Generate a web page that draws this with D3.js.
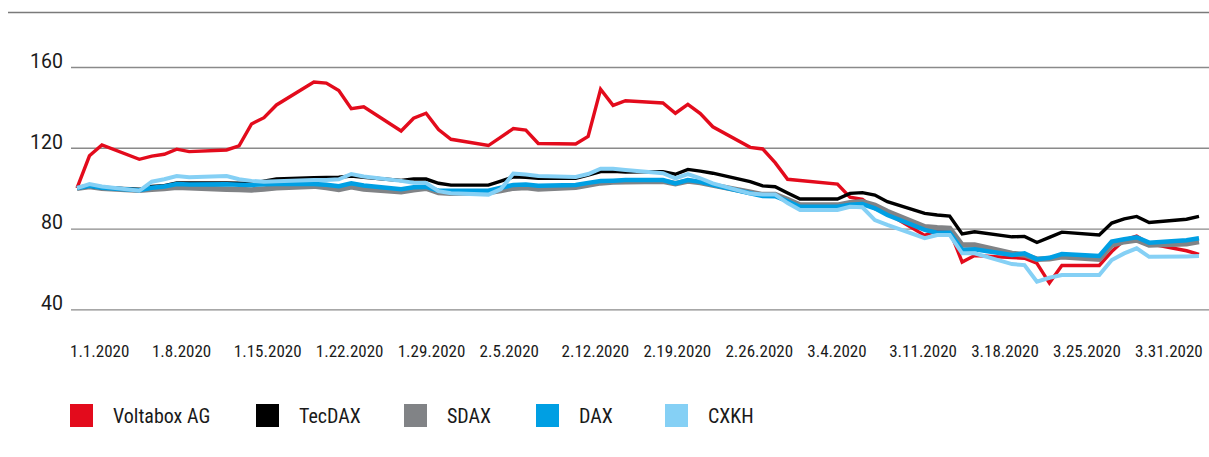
<!DOCTYPE html>
<html>
<head>
<meta charset="utf-8">
<script src="https://cdn.jsdelivr.net/npm/d3@7"></script>
<style>
  body { margin: 0; background: #fff; }
  svg { display: block; }
  .narrow { font-family: "Liberation Sans Narrow", "Roboto Condensed", "DejaVu Sans Condensed", sans-serif; }
</style>
</head>
<body>
<svg width="1209" height="457"></svg>
<script>
let width = 1209;
let height = 457;

// trading days shown in the chart
let dates = [
    "2020-01-01", "2020-01-02", "2020-01-03",
    "2020-01-06", "2020-01-07", "2020-01-08", "2020-01-09", "2020-01-10",
    "2020-01-13", "2020-01-14", "2020-01-15", "2020-01-16", "2020-01-17",
    "2020-01-20", "2020-01-21", "2020-01-22", "2020-01-23", "2020-01-24",
    "2020-01-27", "2020-01-28", "2020-01-29", "2020-01-30", "2020-01-31",
    "2020-02-03", "2020-02-04", "2020-02-05", "2020-02-06", "2020-02-07",
    "2020-02-10", "2020-02-11", "2020-02-12", "2020-02-13", "2020-02-14",
    "2020-02-17", "2020-02-18", "2020-02-19", "2020-02-20", "2020-02-21",
    "2020-02-24", "2020-02-25", "2020-02-26", "2020-02-27", "2020-02-28",
    "2020-03-02", "2020-03-03", "2020-03-04", "2020-03-05", "2020-03-06",
    "2020-03-09", "2020-03-10", "2020-03-11", "2020-03-12", "2020-03-13",
    "2020-03-16", "2020-03-17", "2020-03-18", "2020-03-19", "2020-03-20",
    "2020-03-23", "2020-03-24", "2020-03-25", "2020-03-26", "2020-03-27",
    "2020-03-30", "2020-03-31"
];

let voltabox = [
    100, 116, 121.4,
    114.3, 115.9, 116.8, 119.3, 118.1,
    118.9, 120.9, 131.8, 134.9, 141.2,
    152.6, 152, 148.3, 139.4, 140.3,
    128.3, 134.6, 137.1, 129, 124.2,
    121.1, 125.3, 129.5, 128.8, 122.1,
    121.9, 125.6, 149, 141, 143.3,
    142.2, 137.1, 141.5, 136.9, 130.4,
    120.2, 119.4, 112.6, 104.4, 103.8,
    102, 95.5, 94.4, 89.8, 87.5,
    76.6, 79.1, 79.1, 63.4, 66.6,
    65.6, 65.3, 62.8, 53, 61.7,
    61.7, 68.6, 74.3, 76.2, 72.5,
    69, 67.2
];

let tecdax = [
    100, 101, 100.2,
    99.3, 100.8, 101.2, 102.6, 102.6,
    102.6, 102.4, 102.3, 103.5, 104.6,
    105.2, 105.3, 105.4, 106, 105.4,
    103.8, 104.6, 104.5, 102.4, 101.5,
    101.5, 103.5, 105.6, 105.4, 104.9,
    104.9, 106.5, 108.2, 108.3, 108,
    108.2, 106.9, 109.3, 108.4, 107.4,
    103.2, 101.1, 100.7, 97.6, 94.6,
    94.6, 97.4, 97.8, 96.6, 93.3,
    87.5, 86.7, 86.2, 77.3, 78.4,
    75.9, 76.1, 73.1, 75.6, 78.2,
    76.8, 82.7, 84.8, 86, 83,
    84.6, 86
];

let sdax = [
    100, 100.8, 100,
    99, 99.5, 99.8, 100.4, 100.2,
    99.5, 99.3, 99.1, 99.6, 100.2,
    101, 100.3, 99.4, 100.7, 99.6,
    98.2, 99.2, 100, 97.8, 97.5,
    97.8, 98.8, 100, 100.3, 99.6,
    100.4, 101.5, 102.6, 103, 103.2,
    103.4, 102.2, 103.5, 102.8, 101.5,
    98, 96.8, 96.9, 94.3, 91.6,
    91.6, 92.8, 93.3, 91.5, 88.4,
    80.9, 80.4, 80.1, 71.8, 71.8,
    67.7, 66.9, 64.8, 65, 66,
    64.8, 71.8, 73.5, 74.3, 71.8,
    72.5, 73.5
];

let dax = [
    100, 101.2, 100.2,
    99, 100.2, 100.8, 102, 101.8,
    101.9, 101.7, 101.6, 101.9, 102.1,
    102.1, 101.7, 101, 102.4, 101.3,
    99.5, 100.4, 100.6, 98.7, 98.7,
    98.7, 100.2, 101.6, 101.8, 101.2,
    101.6, 102.6, 103.5, 103.7, 104,
    104, 102.4, 104, 103.1, 101.6,
    97.5, 96.1, 96, 93.5, 90.8,
    90.8, 91.8, 92.1, 90, 86.7,
    79.3, 77.9, 77.9, 69.4, 69.7,
    66.9, 67.7, 64.8, 65.5, 67.4,
    66.4, 73.5, 74.7, 75.7, 73,
    74.2, 75.2
];

let cxkh = [
    100, 102, 100.8,
    98.7, 103.2, 104.4, 106, 105.4,
    106, 104.4, 103.6, 103.2, 103.4,
    104, 104, 104.4, 107, 105.8,
    103.6, 102.7, 102.5, 98.5, 97.5,
    96.8, 99.5, 107.2, 106.8, 106,
    105.5, 107, 109.6, 109.6, 109,
    107.4, 104.9, 107, 104.9, 102.4,
    97.3, 96.8, 96.8, 92.6, 89.2,
    89.2, 90.8, 90.5, 84.2, 81.8,
    75.2, 76.8, 76.8, 67.7, 67.7,
    62.4, 61.9, 53.7, 55.6, 57,
    57, 64.4, 67.7, 70.2, 66,
    66.2, 66.4
];

let seriesNames = ["Voltabox AG", "TecDAX", "SDAX", "DAX", "CXKH"];
let seriesValues = [voltabox, tecdax, sdax, dax, cxkh];
let seriesColors = ["#e30b1c", "#000000", "#818386", "#009fe3", "#85d0f5"];
let seriesWidths = [3.4, 3.4, 5.5, 4.5, 4];
// drawing order, bottom first
let drawOrder = [0, 2, 1, 3, 4];

let yTicks = [40, 80, 120, 160];
let xTickLabels = ["1.1.2020", "1.8.2020", "1.15.2020", "1.22.2020", "1.29.2020", "2.5.2020",
    "2.12.2020", "2.19.2020", "2.26.2020", "3.4.2020", "3.11.2020", "3.18.2020",
    "3.25.2020", "3.31.2020"];

// layout
let plot = { left: 71, right: 1209, x0: 77, x1: 1199, yTop: 67, yBottom: 309.3 };
let legendX = [70, 256, 404, 536, 665];

let svg = d3.select("svg");
let parseDate = d3.timeParse("%Y-%m-%d");
let parsed = dates.map(parseDate);

let x = d3.scaleTime()
    .domain(d3.extent(parsed))
    .range([plot.x0, plot.x1]);

let y = d3.scaleLinear()
    .domain([40, 160])
    .range([plot.yBottom, plot.yTop]);

// top rule
svg.append("line")
    .attr("x1", 8).attr("x2", width)
    .attr("y1", 12.5).attr("y2", 12.5)
    .style("stroke", "#7a7a7a")
    .style("stroke-width", 1.6);

// y gridlines + labels
let yAxis = d3.axisLeft(y)
    .tickValues(yTicks)
    .tickSize(-(plot.right - plot.left))
    .tickPadding(8);

let yAxisG = svg.append("g")
    .attr("transform", `translate(${plot.left},0)`)
    .call(yAxis)
    .attr("font-size", null)
    .attr("font-family", null);
yAxisG.select(".domain").remove();
yAxisG.selectAll("line")
    .style("stroke", "#8a8a8a")
    .style("stroke-width", 1.3);
yAxisG.selectAll("text")
    .attr("dy", "0.02em")
    .style("font-family", "Roboto, 'Open Sans', sans-serif")
    .style("font-size", "19.5px")
    .style("fill", "#1a1a1a");

// x labels (evenly spaced category labels under the plot)
let xLab = d3.scalePoint()
    .domain(xTickLabels)
    .range([70, 1135]);

svg.append("g")
    .selectAll("text")
    .data(xTickLabels)
    .join("text")
    .attr("class", "narrow")
    .attr("x", d => xLab(d))
    .attr("y", 357)
    .text(d => d)
    .style("font-size", "17px")
    .style("fill", "#1a1a1a");

// lines
let line = d3.line()
    .x((d, i) => x(parsed[i]))
    .y(d => y(d));

svg.append("g")
    .selectAll("path")
    .data(drawOrder)
    .join("path")
    .attr("d", i => line(seriesValues[i]))
    .style("fill", "none")
    .style("stroke", i => seriesColors[i])
    .style("stroke-width", i => seriesWidths[i]);

// legend
let legend = svg.append("g")
    .selectAll("g")
    .data(seriesNames)
    .join("g")
    .attr("transform", (d, i) => `translate(${legendX[i]},404)`);

legend.append("rect")
    .attr("width", 23)
    .attr("height", 23)
    .style("fill", (d, i) => seriesColors[i]);

legend.append("text")
    .attr("class", "narrow")
    .attr("x", 43)
    .attr("y", 19)
    .text(d => d)
    .style("font-size", "20px")
    .style("fill", "#1a1a1a");
</script>
</body>
</html>
